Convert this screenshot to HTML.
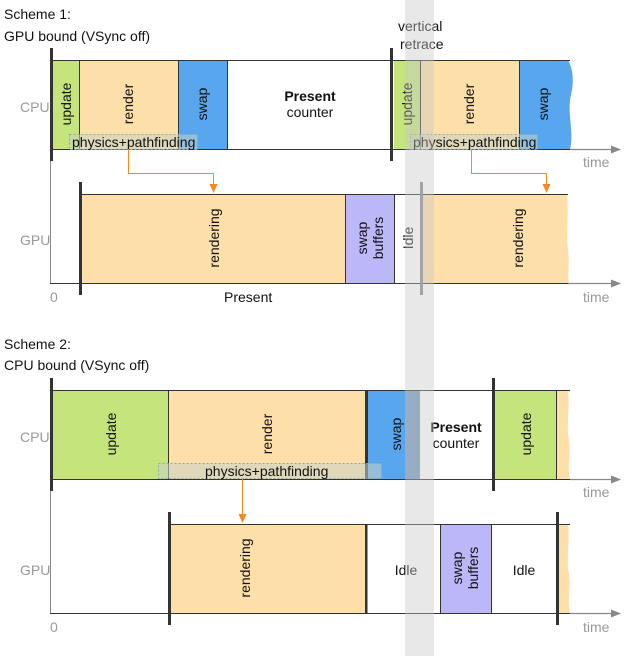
<!DOCTYPE html>
<html><head><meta charset="utf-8"><style>
html,body{margin:0;padding:0;background:#fff}
svg{display:block}
text{font-family:"Liberation Sans",sans-serif;font-size:14px;fill:#111}
.g{fill:#999}
.b{font-weight:bold}
</style></head><body>
<svg width="640" height="656" viewBox="0 0 640 656" xmlns="http://www.w3.org/2000/svg">
<defs>
<marker id="ga" markerWidth="10" markerHeight="8" refX="9" refY="4" orient="auto" markerUnits="userSpaceOnUse"><path d="M0,0 L10,4 L0,8 z" fill="#888"/></marker>
<marker id="oa" markerWidth="8" markerHeight="9" refX="4" refY="8" orient="0" markerUnits="userSpaceOnUse"><path d="M0,0 L8,0 L4,9 z" fill="#f58a1f"/></marker>
</defs>

<text x="4" y="19">Scheme 1:</text>
<text x="4" y="41">GPU bound (VSync off)</text>
<text x="398" y="31">vertical</text>
<text x="400" y="49">retrace</text>

<!-- Scheme1 CPU -->
<rect x="53" y="60" width="26" height="89" fill="#c5e47c"/>
<rect x="79" y="60" width="99" height="89" fill="#fddfa9"/>
<rect x="178" y="60" width="49" height="89" fill="#57a6ee"/>
<rect x="394" y="60" width="26" height="89" fill="#c5e47c"/>
<rect x="420" y="60" width="99" height="89" fill="#fddfa9"/>
<path d="M519,60 L568,60 C576,75 572,90 570,100 C568,115 574,135 570,149 L519,149 z" fill="#57a6ee"/>
<g stroke="#333" stroke-width="1" fill="none">
<line x1="53" y1="60.5" x2="570" y2="60.5"/>
<line x1="79.5" y1="60" x2="79.5" y2="149"/>
<line x1="178.5" y1="60" x2="178.5" y2="149"/>
<line x1="227.5" y1="60" x2="227.5" y2="149"/>
<line x1="420.5" y1="60" x2="420.5" y2="149"/>
<line x1="519.5" y1="60" x2="519.5" y2="149"/>
</g>
<line x1="53" y1="149.5" x2="620" y2="149.5" stroke="#333" stroke-width="1" marker-end="url(#ga)"/>
<line x1="570" y1="149.5" x2="620" y2="149.5" stroke="#888" stroke-width="1.2"/>
<rect x="69.5" y="134.5" width="128" height="15" fill="rgba(200,210,200,0.55)" stroke="#8aa" stroke-dasharray="2,2"/>
<rect x="410.5" y="134.5" width="127" height="15" fill="rgba(200,210,200,0.55)" stroke="#8aa" stroke-dasharray="2,2"/>
<text x="72" y="147">physics+pathfinding</text>
<text x="413" y="147">physics+pathfinding</text>
<rect x="50" y="48" width="3" height="113" fill="#333"/>
<rect x="390" y="48" width="3" height="113" fill="#333"/>
<text class="b" x="310" y="101" text-anchor="middle">Present</text>
<text x="310" y="117" text-anchor="middle">counter</text>
<text transform="translate(71,104) rotate(-90)" text-anchor="middle">update</text>
<text transform="translate(133,104) rotate(-90)" text-anchor="middle">render</text>
<text transform="translate(207,104) rotate(-90)" text-anchor="middle">swap</text>
<text transform="translate(412,104) rotate(-90)" text-anchor="middle">update</text>
<text transform="translate(474,104) rotate(-90)" text-anchor="middle">render</text>
<text transform="translate(548,104) rotate(-90)" text-anchor="middle">swap</text>
<text class="g" x="20" y="112">CPU</text>
<text class="g" x="583" y="167">time</text>

<!-- arrows -->
<polyline points="128.5,149 128.5,173.5 213.5,173.5 213.5,192" fill="none" stroke="#f58a1f" stroke-width="1" marker-end="url(#oa)"/>
<polyline points="471.5,149 471.5,173.5 546.5,173.5 546.5,192" fill="none" stroke="#f58a1f" stroke-width="1" marker-end="url(#oa)"/>

<!-- Scheme1 GPU -->
<line x1="50.5" y1="161" x2="50.5" y2="283" stroke="#888"/>
<rect x="82" y="194" width="263" height="89" fill="#fddfa9"/>
<rect x="345" y="194" width="49" height="89" fill="#bcb8f8"/>
<path d="M423,194 L567,194 C569,215 566,235 568,250 C570,265 567,275 569,283 L423,283 z" fill="#fddfa9"/>
<g stroke="#333" fill="none">
<line x1="82" y1="194.5" x2="568" y2="194.5"/>
<line x1="345.5" y1="194" x2="345.5" y2="283"/>
<line x1="394.5" y1="194" x2="394.5" y2="283"/>
</g>
<line x1="50" y1="283.5" x2="620" y2="283.5" stroke="#333" marker-end="url(#ga)"/>
<line x1="568" y1="283.5" x2="620" y2="283.5" stroke="#888" stroke-width="1.2"/>
<rect x="79" y="182" width="3" height="113" fill="#333"/>
<rect x="420" y="182" width="3" height="113" fill="#888"/>
<text transform="translate(219,238) rotate(-90)" text-anchor="middle">rendering</text>
<text transform="translate(367,238) rotate(-90)" text-anchor="middle">swap</text>
<text transform="translate(383,238) rotate(-90)" text-anchor="middle">buffers</text>
<text transform="translate(413,238) rotate(-90)" text-anchor="middle">Idle</text>
<text transform="translate(523,238) rotate(-90)" text-anchor="middle">rendering</text>
<text class="g" x="20" y="245">GPU</text>
<text class="g" x="50" y="302">0</text>
<text x="224" y="302">Present</text>
<text class="g" x="583" y="302">time</text>

<!-- Scheme 2 -->
<text x="4" y="349">Scheme 2:</text>
<text x="4" y="370">CPU bound (VSync off)</text>

<rect x="53" y="390" width="115" height="89" fill="#c5e47c"/>
<rect x="168" y="390" width="197" height="89" fill="#fddfa9"/>
<rect x="368" y="390" width="37" height="89" fill="#57a6ee"/>
<rect x="405" y="390" width="15" height="89" fill="#7599bf"/>
<rect x="495" y="390" width="61" height="89" fill="#c5e47c"/>
<path d="M556,390 L568,390 C570,410 566,425 569,440 C571,455 567,468 570,479 L556,479 z" fill="#fddfa9"/>
<g stroke="#333" fill="none">
<line x1="53" y1="390.5" x2="570" y2="390.5"/>
<line x1="168.5" y1="390" x2="168.5" y2="479"/>
<line x1="556.5" y1="390" x2="556.5" y2="479"/>
</g>
<rect x="365" y="390" width="3" height="89" fill="#333"/>
<line x1="53" y1="479.5" x2="620" y2="479.5" stroke="#333" marker-end="url(#ga)"/>
<line x1="570" y1="479.5" x2="620" y2="479.5" stroke="#888" stroke-width="1.2"/>
<rect x="158.5" y="463.5" width="223" height="15" fill="rgba(200,210,200,0.55)" stroke="#8aa" stroke-dasharray="2,2"/>
<text x="205" y="476">physics+pathfinding</text>
<rect x="50" y="378" width="3" height="113" fill="#333"/>
<rect x="492" y="378" width="3" height="113" fill="#333"/>
<text transform="translate(116,434) rotate(-90)" text-anchor="middle">update</text>
<text transform="translate(272,434) rotate(-90)" text-anchor="middle">render</text>
<text transform="translate(401,434) rotate(-90)" text-anchor="middle">swap</text>
<text transform="translate(531,434) rotate(-90)" text-anchor="middle">update</text>
<text class="b" x="456" y="432" text-anchor="middle">Present</text>
<text x="456" y="448" text-anchor="middle">counter</text>
<text class="g" x="20" y="442">CPU</text>
<text class="g" x="583" y="497">time</text>

<line x1="242.5" y1="479" x2="242.5" y2="522" stroke="#f58a1f" marker-end="url(#oa)"/>

<line x1="50.5" y1="491" x2="50.5" y2="613" stroke="#888"/>
<rect x="171" y="524" width="194" height="89" fill="#fddfa9"/>
<rect x="440" y="524" width="51" height="89" fill="#bcb8f8"/>
<path d="M559,524 L568,524 C570,545 566,560 569,575 C571,590 567,600 570,613 L559,613 z" fill="#fddfa9"/>
<g stroke="#333" fill="none">
<line x1="171" y1="524.5" x2="570" y2="524.5"/>
<line x1="440.5" y1="524" x2="440.5" y2="613"/>
<line x1="491.5" y1="524" x2="491.5" y2="613"/>
</g>
<rect x="365" y="524" width="2.5" height="89" fill="#333"/>
<line x1="50" y1="613.5" x2="620" y2="613.5" stroke="#333" marker-end="url(#ga)"/>
<line x1="570" y1="613.5" x2="620" y2="613.5" stroke="#888" stroke-width="1.2"/>
<rect x="168" y="512" width="3" height="113" fill="#333"/>
<rect x="556" y="512" width="3" height="113" fill="#333"/>
<text transform="translate(250,568) rotate(-90)" text-anchor="middle">rendering</text>
<text x="406" y="575" text-anchor="middle">Idle</text>
<text transform="translate(462,568) rotate(-90)" text-anchor="middle">swap</text>
<text transform="translate(478,568) rotate(-90)" text-anchor="middle">buffers</text>
<text x="524" y="575" text-anchor="middle">Idle</text>
<text class="g" x="20" y="575">GPU</text>
<text class="g" x="50" y="632">0</text>
<text class="g" x="583" y="632">time</text>

<!-- vertical retrace band -->
<rect x="405" y="0" width="29" height="656" fill="rgba(200,200,200,0.42)"/>
</svg>
</body></html>
